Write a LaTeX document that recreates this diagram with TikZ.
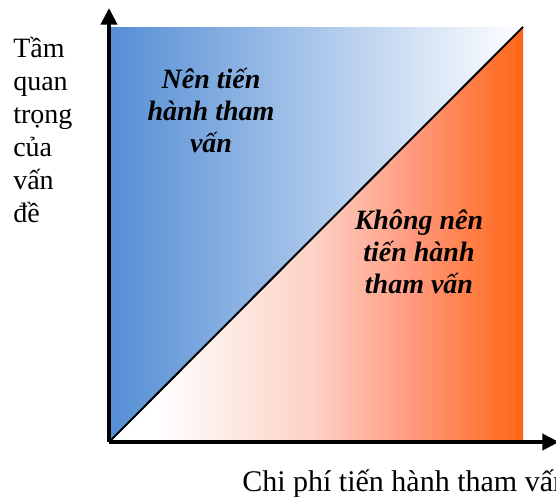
\documentclass[tikz,border=0pt]{standalone}
\usepackage{fontspec}
\setmainfont{Liberation Serif}
\usetikzlibrary{arrows.meta}
\definecolor{issueBlue}{RGB}{85,142,213}
\definecolor{costOrange}{RGB}{255,102,20}
\definecolor{costPink}{RGB}{253,208,196}
\definecolor{costSalmon}{RGB}{255,152,124}
\pgfdeclarehorizontalshading{costShade}{100bp}{color(0bp)=(white); color(25bp)=(white);
  color(31bp)=(white); color(50bp)=(costPink); color(62bp)=(costSalmon);
  color(75bp)=(costOrange); color(100bp)=(costOrange)}

\begin{document}
\begin{tikzpicture}[x=0.75pt, y=-0.75pt,
    axis/.style={line width=3pt, -{Triangle[length=12.5pt, width=12pt]}},
    zone/.style={align=center, inner sep=0pt, anchor=base,
                 font=\fontsize{21}{24}\selectfont\bfseries\itshape},
    axlabel/.style={align=left, inner sep=0pt, anchor=base west,
                    font=\fontsize{21}{24.75}\selectfont}]
  \useasboundingbox (0,0) rectangle (556,496);
  \coordinate (o) at (109,442);
  \coordinate (tl) at (109,27);
  \coordinate (tr) at (523,27);
  \coordinate (br) at (523,442);
  \coordinate (ytip) at (109,8);
  \coordinate (xtip) at (559,442);
  % the two halves of the square
  \shade[left color=issueBlue, right color=white] (o) -- (tl) -- (tr) -- cycle;
  \shade[shading=costShade] (o) -- (tr) -- (br) -- cycle;
  \draw[line width=1.5pt] (o) -- (tr);
  \draw[axis] (o) -- (ytip);
  \draw[axis] (o) -- (xtip);
  % base anchor sits on the last line
  \node[zone] (doIt) at (211,152) {Nên tiến\\hành tham\\vấn};
  \node[zone] (skipIt) at (419,293) {Không nên\\tiến hành\\tham vấn};
  \node[axlabel] (importance) at (13,222) {Tầm\\quan\\trọng\\của\\vấn\\đề};
  \node[axlabel, font=\fontsize{22.5}{27}\selectfont] (cost) at (242,491) {Chi phí tiến hành tham vấn};
\end{tikzpicture}
\end{document}
